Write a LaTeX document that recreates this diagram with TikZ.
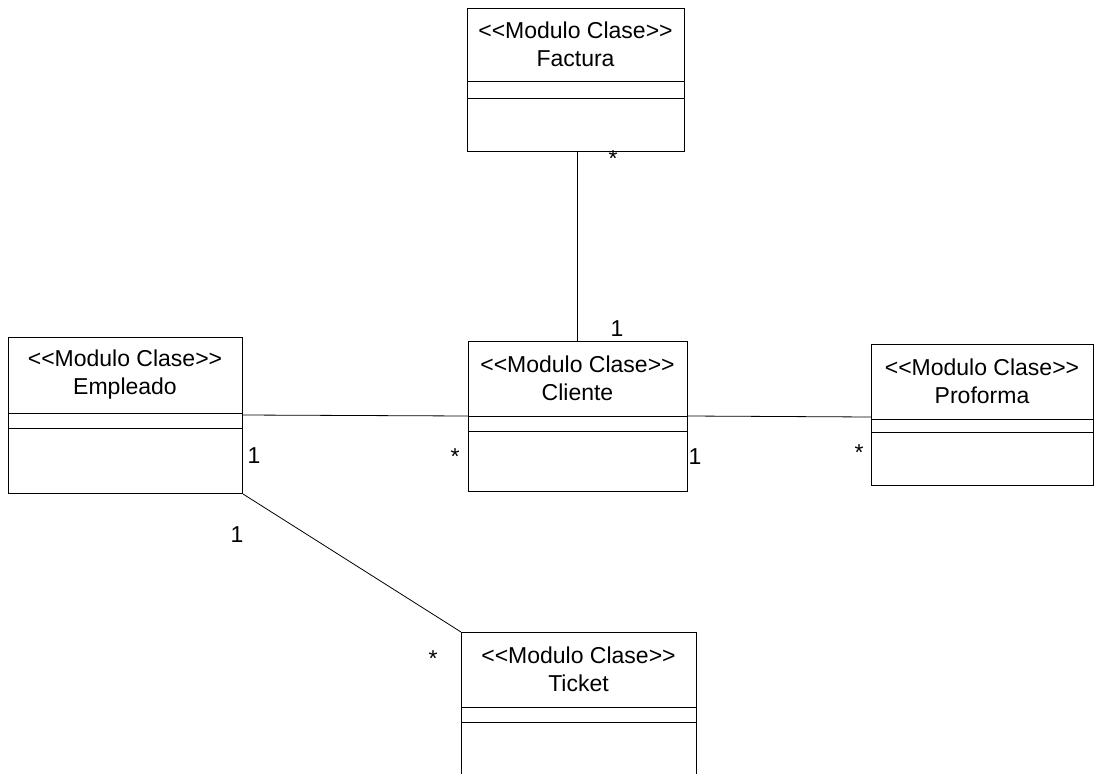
\documentclass[tikz,border=0pt]{standalone}
\usepackage{fontspec}
\setmainfont{Liberation Sans}
% stereotype text, kerned so that << and >> are not turned into guillemets
\newcommand{\stereo}{<\kern0pt<Modulo Clase>\kern0pt>}
% \umlclass{name}{left}{top}{right}{bottom}{divider 1}{divider 2}{class name}
\newcommand{\umlclass}[8]{%
  \node[classbox, minimum width={(#4-#2)*1pt}, minimum height={(#5-#3)*1pt}] (#1) at (#2,#3) {};
  \draw[divider] (#1.west |- 0,#6) -- (#1.east |- 0,#6);
  \draw[divider] (#1.west |- 0,#7) -- (#1.east |- 0,#7);
  \node[classname] (#1-name) at ({(#2+#4)/2},{(#3+#6)/2}) {\stereo\\#8};
}
\begin{document}
\begin{tikzpicture}[x=1pt,y=-1pt,
  classbox/.style={draw, line width=1pt, inner sep=0pt, anchor=north west},
  divider/.style={line width=1pt},
  assoc/.style={line width=0.8pt},
  classname/.style={align=center, inner sep=0pt, font=\fontsize{23}{28}\selectfont},
  mult/.style={anchor=base, inner sep=0pt, font=\fontsize{23}{28}\selectfont}]
\clip (0,0) rectangle (1096,774);

% classes
\umlclass{fac}{467}{8}{684}{151}{81}{98}{Factura}
\umlclass{emp}{8}{337}{242}{493}{413}{428}{Empleado}
\umlclass{cli}{468}{341}{687}{491}{416}{431}{Cliente}
\umlclass{pro}{871}{344}{1093}{485}{419}{432}{Proforma}
\umlclass{tic}{461}{632}{696}{800}{707}{722}{Ticket}

% associations
\draw[assoc] (fac.south -| 577,0) -- (cli.north -| 577,0);
\draw[assoc] (emp.east |- 0,415) -- (cli.west |- 0,416);
\draw[assoc] (cli.east |- 0,416) -- (pro.west |- 0,417);
\draw[assoc] (emp.south east) -- (tic.north west);

% multiplicities
\node[mult] (m1) at (613,166) {*};
\node[mult] (m2) at (617,336) {1};
\node[mult] (m3) at (455,464) {*};
\node[mult] (m4) at (695,464) {1};
\node[mult] (m5) at (254,463) {1};
\node[mult] (m6) at (237,542) {1};
\node[mult] (m7) at (433,666) {*};
\node[mult] (m8) at (859,460) {*};
\end{tikzpicture}
\end{document}
